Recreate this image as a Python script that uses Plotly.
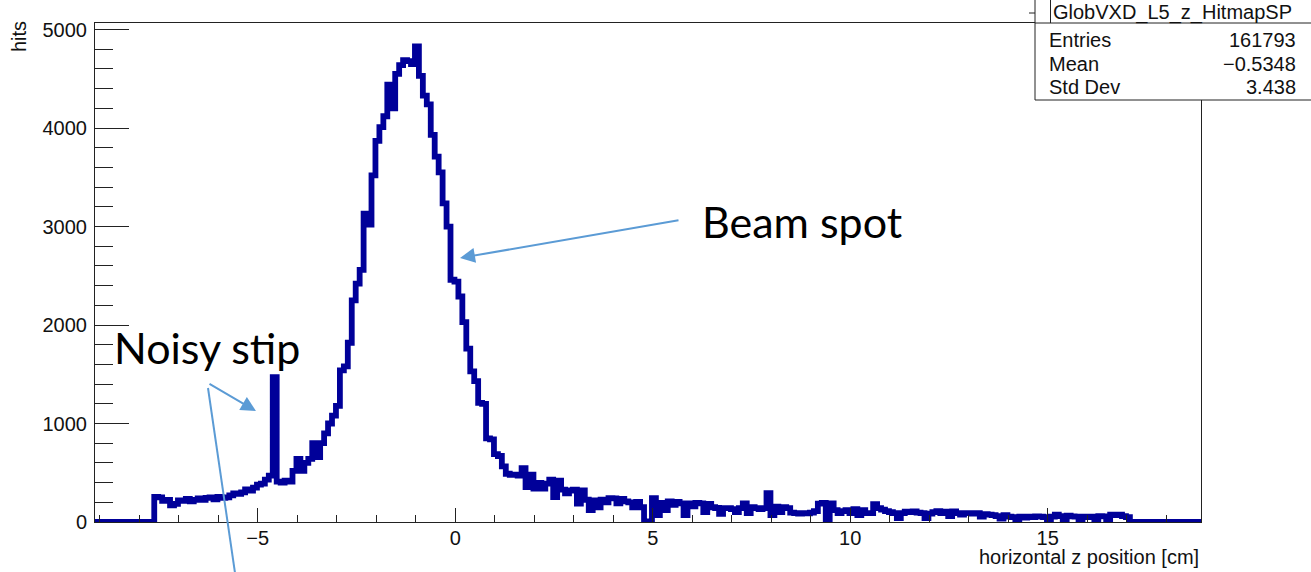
import numpy as np
import plotly.graph_objects as go

# ---------------- data ----------------
hist_name = "GlobVXD_L5_z_HitmapSP"
x_title = "horizontal z position [cm]"
y_title = "hits"
bin_low = -9.12          # histogram lower edge [cm]
bin_width = 0.1          # [cm]
n_bins = 280
first_filled_bin = 15    # bins before this are empty

# bin contents from z = -7.62 cm up to 17.08 cm (0.1 cm bins)
hits_filled = [
    255, 250, 215, 225, 170, 185, 220, 215, 235, 210,
    225, 240, 225, 245, 250, 230, 255, 245, 250, 270,
    290, 285, 300, 330, 320, 350, 380, 390, 430, 470,
    1470, 410, 400, 420, 410, 520, 640, 520, 600, 640,
    800, 660, 800, 900, 1000, 1080, 1180, 1540, 1580, 1820,
    2250, 2420, 2560, 3130, 3020, 3520, 3870, 4010, 4120, 4440,
    4200, 4550, 4640, 4690, 4680, 4650, 4830, 4530, 4330, 4240,
    3930, 3710, 3550, 3235, 3000, 2460, 2440, 2290, 2030, 1760,
    1530, 1430, 1210, 1200, 850, 840, 690, 670, 565, 490,
    480, 480, 470, 548, 355, 480, 340, 396, 340, 390,
    429, 254, 420, 328, 290, 320, 328, 186, 320, 226,
    122, 220, 150, 226, 200, 243, 240, 190, 235, 210,
    200, 150, 205, 150, 5, 0, 243, 70, 193, 120,
    210, 175, 205, 190, 70, 190, 160, 193, 190, 100,
    185, 150, 142, 84, 140, 140, 130, 100, 140, 190,
    90, 150, 140, 130, 140, 294, 70, 155, 100, 150,
    140, 95, 90, 85, 90, 88, 95, 110, 186, 193,
    30, 190, 120, 90, 110, 120, 90, 130, 70, 120,
    90, 90, 180, 140, 125, 110, 100, 90, 40, 90,
    105, 100, 108, 95, 90, 40, 85, 100, 110, 90,
    105, 60, 108, 90, 75, 91, 91, 85, 90, 55,
    80, 74, 70, 60, 35, 70, 55, 50, 10, 55,
    45, 55, 50, 57, 55, 50, 30, 55, 74, 60,
    20, 65, 57, 55, 25, 55, 50, 55, 10, 60,
    57, 20, 74, 70, 74, 60, 50,
]
stat_labels = ["Entries", "Mean", "Std Dev"]
stat_values = ["161793", "\u22120.5348", "3.438"]
x_tickvals = [-5, 0, 5, 10, 15]
y_max = 5067

hits = [0] * first_filled_bin + hits_filled
hits += [0] * (n_bins - len(hits))
edges = bin_low + bin_width * np.arange(n_bins + 1)
x_step = edges
y_step = hits + [hits[-1]]

# ---------------- layout geometry (pixels) ----------------
W, H = 1311, 572
L, R, T, B = 95, 1201, 23, 522


def X(px):
    return (px - L) / (R - L)


def Y(py):
    return (B - py) / (B - T)


AX_FONT = dict(family="Liberation Sans, Arial, sans-serif", size=20, color="#111111")
BIG_FONT = dict(family="Lato, Open Sans, sans-serif", size=43, color="#000000")
ARROW_C = "#5B9BD5"

fig = go.Figure()
fig.add_trace(go.Scatter(
    x=x_step, y=y_step, mode="lines", line_shape="hv",
    line=dict(color="#000099", width=5.8), hoverinfo="skip", showlegend=False,
))

fig.update_layout(
    width=W, height=H,
    margin=dict(l=L, r=W - R, t=T, b=H - B, pad=0),
    paper_bgcolor="white", plot_bgcolor="white",
    showlegend=False,
)
fig.update_xaxes(
    range=[bin_low, bin_low + n_bins * bin_width], tickvals=x_tickvals,
    showgrid=False, zeroline=False,
    showline=True, mirror=True, linecolor="#222222", linewidth=1,
    ticks="inside", ticklen=14, tickwidth=1, tickcolor="#222222",
    minor=dict(ticks="inside", ticklen=7, dtick=1, tick0=0, tickcolor="#222222", showgrid=False),
    tickfont=AX_FONT, ticklabelstandoff=-2,
)
fig.update_yaxes(
    range=[0, y_max], dtick=1000, tick0=0,
    showgrid=False, zeroline=False,
    showline=True, mirror=True, linecolor="#222222", linewidth=1,
    ticks="inside", ticklen=34, tickwidth=1, tickcolor="#222222",
    minor=dict(ticks="inside", ticklen=18, dtick=200, tick0=0, tickcolor="#222222", showgrid=False),
    tickfont=AX_FONT, ticklabelstandoff=3,
)

annotations = []
# axis titles
annotations.append(dict(text=x_title, x=1, xref="paper", xanchor="right",
                        y=Y(557), yref="paper", yanchor="middle",
                        showarrow=False, font=AX_FONT))
annotations.append(dict(text=y_title, textangle=-90, x=X(18.5), xref="paper", xanchor="center",
                        y=Y(19), yref="paper", yanchor="top",
                        showarrow=False, font=AX_FONT))
# stats box texts
annotations.append(dict(text=hist_name, x=X(1051), xref="paper", xanchor="left",
                        y=Y(12), yref="paper", yanchor="middle", showarrow=False, font=AX_FONT))
for i, (lab, val) in enumerate(zip(stat_labels, stat_values)):
    yy = Y(40 + i * 23.5)
    annotations.append(dict(text=lab, x=X(1047), xref="paper", xanchor="left",
                            y=yy, yref="paper", yanchor="middle", showarrow=False, font=AX_FONT))
    annotations.append(dict(text=val, x=X(1298), xref="paper", xanchor="right",
                            y=yy, yref="paper", yanchor="middle", showarrow=False, font=AX_FONT))
# callout texts
annotations.append(dict(text="Beam spot", x=X(802), xref="paper", xanchor="center",
                        y=Y(222), yref="paper", yanchor="middle", showarrow=False, font=BIG_FONT))
annotations.append(dict(text="Noisy stip", x=X(207), xref="paper", xanchor="center",
                        y=Y(347), yref="paper", yanchor="middle", showarrow=False, font=BIG_FONT))
# arrows
annotations.append(dict(text="", x=X(460), y=Y(258), xref="paper", yref="paper",
                        showarrow=True, ax=220, ay=-38, arrowcolor=ARROW_C, arrowwidth=2,
                        arrowhead=2, arrowsize=1.5, standoff=0))
annotations.append(dict(text="", x=X(256), y=Y(411), xref="paper", yref="paper",
                        showarrow=True, ax=-48, ay=-28, arrowcolor=ARROW_C, arrowwidth=2,
                        arrowhead=2, arrowsize=1.5, standoff=0))

shapes = [
    # stats box
    dict(type="rect", xref="paper", yref="paper", x0=X(1035), x1=X(1330), y0=Y(100), y1=Y(-5),
         line=dict(color="#222222", width=1), fillcolor="white", layer="above"),
    dict(type="line", xref="paper", yref="paper", x0=X(1035), x1=X(1330), y0=Y(23), y1=Y(23),
         line=dict(color="#222222", width=1), layer="above"),
    dict(type="line", xref="paper", yref="paper", x0=X(1050.5), x1=X(1050.5), y0=Y(-5), y1=Y(23),
         line=dict(color="#222222", width=1), layer="above"),
    dict(type="line", xref="paper", yref="paper", x0=X(1029), x1=X(1035), y0=Y(13), y1=Y(13),
         line=dict(color="#222222", width=1), layer="above"),
    # long pointer line going off the bottom
    dict(type="line", xref="paper", yref="paper", x0=X(208), x1=X(237.5), y0=Y(388), y1=Y(590),
         line=dict(color=ARROW_C, width=2), layer="above"),
]
fig.update_layout(annotations=annotations, shapes=shapes)

fig.write_html(
    "out.html",
    config={"displayModeBar": False},
    post_script="document.body.style.margin='0';document.body.style.padding='0';",
)
